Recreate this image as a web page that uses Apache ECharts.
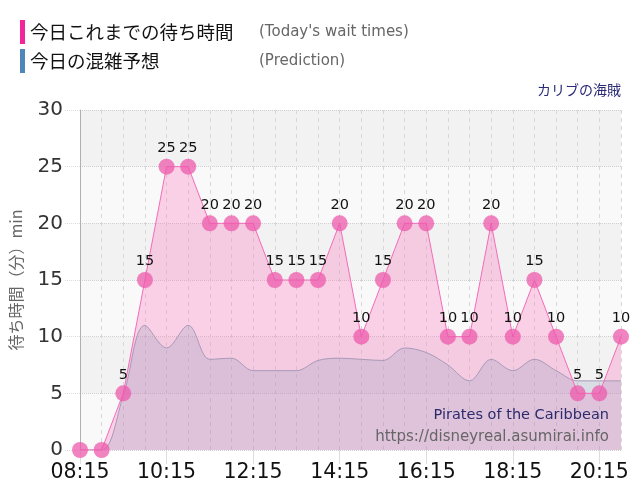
<!DOCTYPE html>
<html>
<head>
<meta charset="utf-8">
<script src="https://cdn.jsdelivr.net/npm/echarts@6/dist/echarts.min.js"></script>
<style>
  html, body { margin: 0; padding: 0; background: #fff; }
  #grafiek { width: 640px; height: 500px; }
</style>
</head>
<body>
<div id="grafiek"></div>
<script>
// tijdstippen (elke 30 minuten)
const tijden = ['08:15', '08:45', '09:15', '09:45', '10:15', '10:45', '11:15', '11:45',
    '12:15', '12:45', '13:15', '13:45', '14:15', '14:45', '15:15', '15:45',
    '16:15', '16:45', '17:15', '17:45', '18:15', '18:45', '19:15', '19:45',
    '20:15', '20:45'];

// wachttijden vandaag (minuten)
const wachttijden = [0, 0, 5, 15, 25, 25, 20, 20, 20, 15, 15, 15, 20, 10, 15, 20,
    20, 10, 10, 20, 10, 15, 10, 5, 5, 10];

// voorspelling
const voorspelling = [0, 0, 4.8, 11, 9, 11, 8, 8.1, 7, 7, 7, 7.9, 8.1, 8, 7.9, 9,
    8.6, 7.5, 6.1, 8, 7, 8, 7, 6.1, 6.1, 6.1];

const yTicks = [0, 5, 10, 15, 20, 25, 30];

const naamWacht = '今日これまでの待ち時間';
const naamVoorspel = '今日の混雑予想';
const subWacht = "(Today's wait times)";
const subVoorspel = '(Prediction)';

const jpFont = '"Noto Sans CJK JP", "DejaVu Sans", sans-serif';
const latFont = '"DejaVu Sans", Verdana, sans-serif';

function toonGrafiek() {
    let grafiek = echarts.init(document.getElementById('grafiek'));
    let option = {
        backgroundColor: '#ffffff',
        animation: false,
        title: [
            {
                text: 'カリブの海賊',
                right: 19, top: 83, padding: 0,
                textStyle: { fontFamily: jpFont, fontSize: 14, fontWeight: 'normal', color: '#2a2a78' }
            },
            {
                text: 'Pirates of the Caribbean',
                right: 31, top: 408, padding: 0,
                textStyle: { fontFamily: latFont, fontSize: 14.5, fontWeight: 'normal', color: '#2b2b6b' }
            },
            {
                text: 'https://disneyreal.asumirai.info',
                right: 31, top: 430, padding: 0,
                textStyle: { fontFamily: latFont, fontSize: 15, fontWeight: 'normal', color: '#666666' }
            }
        ],
        legend: {
            orient: 'vertical',
            left: 20, top: 20, padding: 0,
            itemWidth: 5, itemHeight: 24, itemGap: 5,
            icon: 'rect',
            selectedMode: false,
            data: [
                { name: naamWacht, itemStyle: { color: '#f2269a' } },
                { name: naamVoorspel, itemStyle: { color: '#4f88b8' } }
            ],
            formatter: function (name) {
                let sub = name === naamWacht ? subWacht : subVoorspel;
                return '{a|' + name + '}{b|' + sub + '}';
            },
            textStyle: {
                padding: [0, 0, 0, 0],
                rich: {
                    a: { fontFamily: jpFont, fontSize: 18.5, color: '#111', width: 229 },
                    b: { fontFamily: latFont, fontSize: 15, color: '#666' }
                }
            }
        },
        grid: { left: 80, right: 19, top: 110, bottom: 50 },
        xAxis: {
            type: 'category',
            data: tijden,
            boundaryGap: false,
            axisLine: { show: false },
            axisTick: { show: true, interval: 3, length: 14, lineStyle: { color: '#dddddd' } },
            axisLabel: { interval: 3, fontFamily: latFont, fontSize: 20.5, color: '#111', margin: 12 },
            splitLine: { show: true, interval: 0, lineStyle: { color: '#d8d8d8', type: [4, 4] } }
        },
        yAxis: {
            type: 'value',
            min: 0, max: 30, interval: 5,
            name: '待ち時間（分）min',
            nameLocation: 'middle',
            nameRotate: 90,
            nameGap: 56,
            nameTextStyle: { fontFamily: jpFont, fontSize: 16, color: '#666' },
            axisLine: { show: true, lineStyle: { color: '#b0b0b0' } },
            axisTick: { show: true, length: 15, lineStyle: { color: '#dddddd', type: 'dotted' } },
            axisLabel: {
                fontFamily: latFont, fontSize: 20, color: '#333', margin: 17,
                formatter: v => yTicks.includes(v) ? String(v) : ''
            },
            splitLine: { show: true, lineStyle: { color: '#cfcfcf', type: 'dotted' } },
            splitArea: { show: true, areaStyle: { color: ['#f9f9f9', '#f2f2f2'] } }
        },
        series: [
            {
                // roze vlak onder de wachttijden
                name: naamWacht,
                type: 'line',
                data: wachttijden,
                z: 1,
                symbol: 'none',
                lineStyle: { width: 0 },
                areaStyle: { color: 'rgba(255,105,182,0.4)' }
            },
            {
                name: naamVoorspel,
                type: 'line',
                data: voorspelling,
                z: 2,
                smooth: 0.35,
                symbol: 'none',
                lineStyle: { width: 1, color: '#a899b8' },
                areaStyle: { color: 'rgba(135,150,185,0.33)' }
            },
            {
                name: naamWacht,
                type: 'line',
                data: wachttijden,
                z: 3,
                symbol: 'circle',
                symbolSize: 16,
                showAllSymbol: true,
                lineStyle: { width: 1, color: '#f26cb8' },
                itemStyle: { color: 'rgba(238,90,172,0.75)' },
                label: {
                    show: true,
                    position: 'top',
                    distance: 3,
                    fontFamily: latFont,
                    fontSize: 14.5,
                    color: '#111',
                    formatter: p => p.value === 0 ? '' : String(p.value)
                }
            }
        ]
    };
    grafiek.setOption(option);
}

window.onload = function () {
    if (document.getElementById('grafiek')) {
        toonGrafiek();
    } else {
        console.error("Element #grafiek niet gevonden!");
    }
};
</script>
</body>
</html>
